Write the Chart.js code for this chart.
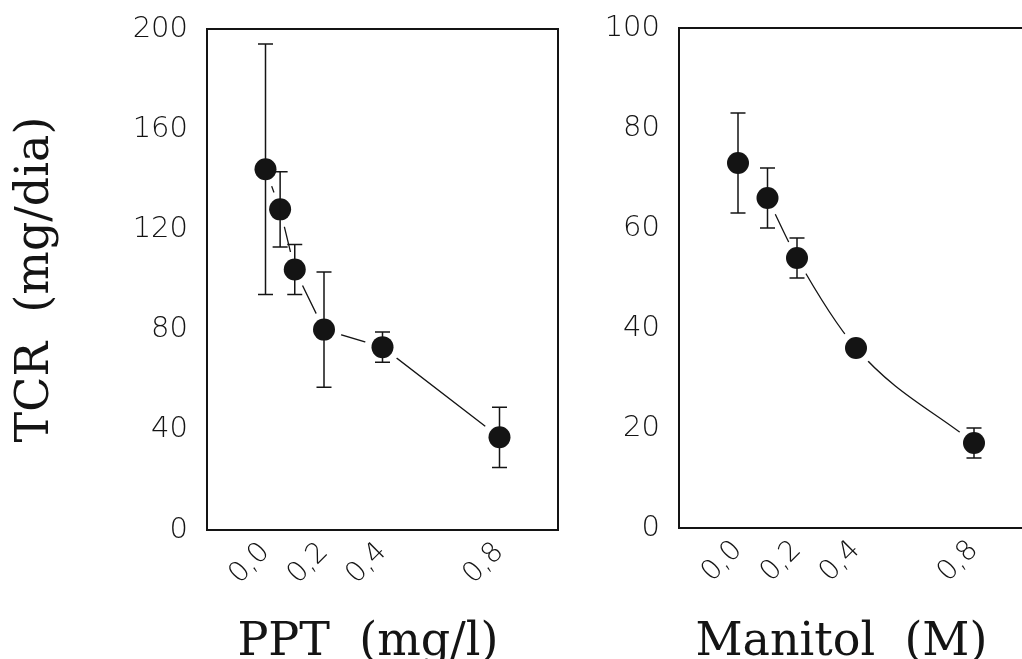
<!DOCTYPE html>
<html>
<head>
<meta charset="utf-8">
<script src="https://cdn.jsdelivr.net/npm/chart.js@4.4.1/dist/chart.umd.min.js"></script>
<style>
html,body{margin:0;padding:0;background:#fff;overflow:hidden;width:1022px;height:659px;}
.panel{position:absolute;top:0;height:680px;}
#caja_ppt{left:0;width:600px;}
#caja_manitol{left:600px;width:460px;}
</style>
</head>
<body>
<div class="panel" id="caja_ppt"><canvas id="grafico_ppt"></canvas></div>
<div class="panel" id="caja_manitol"><canvas id="grafico_manitol"></canvas></div>
<script>
// datos
var ppt_x = [0, 0.05, 0.1, 0.2, 0.4, 0.8];
var ppt_tcr = [144, 128, 104, 80, 73, 37];
var ppt_error = [50, 15, 10, 23, 6, 12];

var manitol_x = [0, 0.1, 0.2, 0.4, 0.8];
var manitol_tcr = [73, 66, 54, 36, 17];
var manitol_error = [10, 6, 4, 0, 3];
// curva ajustada, arranca en el segundo punto
var manitol_curva_x = [0.1, 0.2, 0.4, 0.8];
var manitol_curva_y = [66, 54, 36, 17];

var x_ticks = [0, 0.2, 0.4, 0.8];
var x_tick_labels = ["0,0", "0,2", "0,4", "0,8"];
var ppt_y_ticks = [0, 40, 80, 120, 160, 200];
var manitol_y_ticks = [0, 20, 40, 60, 80, 100];

var ppt_titulo_x = "PPT  (mg/l)  ";
var manitol_titulo_x = "Manitol  (M)  ";
var titulo_y = "TCR  (mg/dia)";

var color_tinta = "#141414";

function puntos(xs, ys){
	var lista = [];
	for (var i = 0; i < xs.length; i++) {
		lista.push({x: xs[i], y: ys[i]});
	}
	return lista;
}

var plugin_marco_barras = {
	id: "marco_barras",
	beforeDatasetsDraw: function(chart){
		var ctx = chart.ctx;
		var area = chart.chartArea;
		ctx.save();
		ctx.strokeStyle = color_tinta;
		ctx.lineWidth = 2;
		ctx.strokeRect(area.left, area.top, area.right - area.left, area.bottom - area.top);
		ctx.restore();
	},
	afterDatasetsDraw: function(chart){
		var ctx = chart.ctx;
		var sx = chart.scales.x;
		var sy = chart.scales.y;
		ctx.save();
		ctx.strokeStyle = color_tinta;
		ctx.lineWidth = 1.5;
		chart.data.datasets.forEach(function(ds){
			if (!ds.errores) return;
			ds.data.forEach(function(p, i){
				var e = ds.errores[i];
				if (!e) return;
				var px = sx.getPixelForValue(p.x);
				var arriba = sy.getPixelForValue(p.y + e);
				var abajo = sy.getPixelForValue(p.y - e);
				ctx.beginPath();
				ctx.moveTo(px, arriba);
				ctx.lineTo(px, abajo);
				ctx.moveTo(px - 7.5, arriba);
				ctx.lineTo(px + 7.5, arriba);
				ctx.moveTo(px - 7.5, abajo);
				ctx.lineTo(px + 7.5, abajo);
				ctx.stroke();
			});
		});
		ctx.restore();
	}
};

function opciones_panel(cfg){
	return {
		responsive: true,
		maintainAspectRatio: false,
		animation: false,
		layout: {padding: cfg.padding},
		plugins: {legend: {display: false}, tooltip: {enabled: false}},
		scales: {
			x: {
				type: "linear",
				min: -0.2,
				max: 1.0,
				grid: {display: false, drawTicks: false},
				border: {display: false},
				afterBuildTicks: function(s){
					s.ticks = x_ticks.map(function(v){ return {value: v}; });
				},
				afterFit: function(s){ s.height = cfg.alto_x; },
				ticks: {
					autoSkip: false,
					minRotation: 45,
					maxRotation: 45,
					padding: 6,
					color: color_tinta,
					font: {family: "DejaVu Sans", size: 28, weight: 200},
					callback: function(v){ return x_tick_labels[x_ticks.indexOf(v)]; }
				},
				title: {
					display: true,
					text: cfg.titulo_x,
					color: color_tinta,
					font: {family: "DejaVu Serif", size: 46, lineHeight: 1},
					padding: {top: 0, bottom: 14}
				}
			},
			y: {
				min: 0,
				max: cfg.y_max,
				// sin rejilla; el largo de marca solo sirve para separar los numeros del eje
				grid: {display: false, drawTicks: true, tickLength: 17},
				border: {display: false},
				afterBuildTicks: function(s){
					s.ticks = cfg.y_ticks.map(function(v){ return {value: v}; });
				},
				afterFit: function(s){ s.width = cfg.ancho_y; },
				ticks: {
					padding: 2,
					color: color_tinta,
					font: {family: "DejaVu Sans", size: 29, weight: 200}
				},
				title: {
					display: cfg.titulo_y ? true : false,
					text: cfg.titulo_y || "",
					color: color_tinta,
					font: {family: "DejaVu Serif", size: 46, lineHeight: 1},
					padding: {top: 13, bottom: 0}
				}
			}
		}
	};
}

function datasets_panel(xs, ys, errs, linea, curva){
	return [
		{
			type: "line",
			data: linea,
			borderColor: color_tinta,
			borderWidth: 1.3,
			pointRadius: 0,
			fill: false,
			tension: curva ? 0.4 : 0,
			cubicInterpolationMode: curva ? "monotone" : "default",
			order: 3
		},
		{
			// halo blanco que corta la linea cerca de cada punto
			type: "scatter",
			data: puntos(xs, ys),
			pointRadius: 18,
			backgroundColor: "#fff",
			borderWidth: 0,
			order: 2
		},
		{
			type: "scatter",
			data: puntos(xs, ys),
			errores: errs,
			pointRadius: 11,
			backgroundColor: color_tinta,
			borderWidth: 0,
			order: 1
		}
	];
}

function sec_grafico_ppt(){
	new Chart(document.getElementById("grafico_ppt"), {
		type: "scatter",
		data: {datasets: datasets_panel(ppt_x, ppt_tcr, ppt_error, puntos(ppt_x, ppt_tcr), false)},
		options: opciones_panel({
			padding: {top: 29, right: 42, left: 0, bottom: 0},
			alto_x: 150,
			ancho_y: 207,
			y_max: 200,
			y_ticks: ppt_y_ticks,
			titulo_x: ppt_titulo_x,
			titulo_y: titulo_y
		}),
		plugins: [plugin_marco_barras]
	});
}

function sec_grafico_manitol(){
	new Chart(document.getElementById("grafico_manitol"), {
		type: "scatter",
		data: {datasets: datasets_panel(manitol_x, manitol_tcr, manitol_error, puntos(manitol_curva_x, manitol_curva_y), true)},
		options: opciones_panel({
			padding: {top: 28, right: 27, left: 0, bottom: 0},
			alto_x: 152,
			ancho_y: 79,
			y_max: 100,
			y_ticks: manitol_y_ticks,
			titulo_x: manitol_titulo_x,
			titulo_y: null
		}),
		plugins: [plugin_marco_barras]
	});
}

sec_grafico_ppt();
sec_grafico_manitol();
</script>
</body>
</html>
